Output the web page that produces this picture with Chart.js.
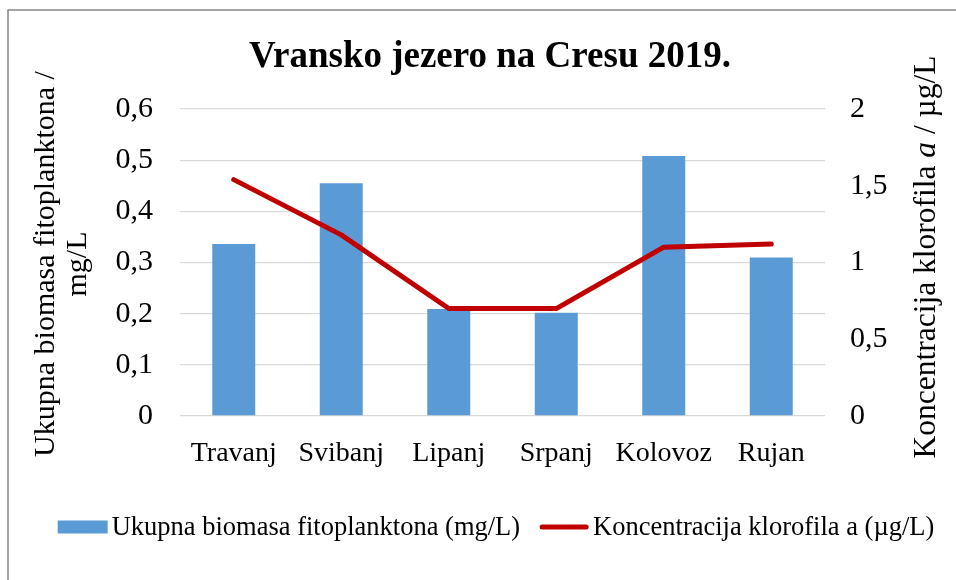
<!DOCTYPE html>
<html>
<head>
<meta charset="utf-8">
<script src="https://cdn.jsdelivr.net/npm/chart.js@4.4.1/dist/chart.umd.min.js"></script>
<style>
  html, body { margin: 0; padding: 0; background: #ffffff; }
  #wrap { position: relative; width: 956px; height: 580px; }
</style>
</head>
<body>
<div id="wrap"><canvas id="c" width="956" height="580"></canvas></div>
<script>
// ---- data ----
const categories = ['Travanj', 'Svibanj', 'Lipanj', 'Srpanj', 'Kolovoz', 'Rujan'];
const biomasa = [0.336, 0.455, 0.209, 0.202, 0.508, 0.310];
const klorofil = [1.54, 1.18, 0.70, 0.70, 1.10, 1.12];
const leftTickLabels = ['0', '0,1', '0,2', '0,3', '0,4', '0,5', '0,6'];
const rightTickLabels = ['0', '0,5', '1', '1,5', '2'];
const chartTitle = 'Vransko jezero na Cresu 2019.';
const leftAxisTitle = ['Ukupna biomasa fitoplanktona /', 'mg/L'];
const rightAxisTitle = [['Koncentracija klorofila ', false], ['a', true], [' / µg/L', false]];
const seriesNames = ['Ukupna biomasa fitoplanktona (mg/L)', 'Koncentracija klorofila a (µg/L)'];
const barColor = '#5B9BD5';
const lineColor = '#C00000';

const FONT = "'Liberation Serif', 'Times New Roman', serif";
const PLOT_TOP = 109, PLOT_BOTTOM = 416, PLOT_LEFT = 180, PLOT_RIGHT = 825;
const X_AXIS_H = 60;

const framePlugin = {
  id: 'frame',
  beforeDraw(chart) {
    const ctx = chart.ctx;
    ctx.save();
    ctx.fillStyle = '#ffffff';
    ctx.fillRect(0, 0, chart.width, chart.height);
    ctx.strokeStyle = '#858585';
    ctx.lineWidth = 1.5;
    ctx.beginPath();
    ctx.moveTo(8, chart.height + 5);
    ctx.lineTo(8, 10);
    ctx.lineTo(chart.width + 5, 10);
    ctx.stroke();
    ctx.restore();
  }
};

const textPlugin = {
  id: 'texts',
  afterDraw(chart) {
    const ctx = chart.ctx;
    ctx.save();
    ctx.fillStyle = '#000000';
    ctx.textBaseline = 'alphabetic';

    // chart title
    ctx.font = 'bold 37px ' + FONT;
    ctx.textAlign = 'center';
    ctx.fillText(chartTitle, 490, 67);

    // left axis title, two lines
    ctx.font = '30px ' + FONT;
    const leftPos = [[54, 264], [86, 264]];
    leftAxisTitle.forEach((t, i) => {
      ctx.save();
      ctx.translate(leftPos[i][0], leftPos[i][1]);
      ctx.rotate(-Math.PI / 2);
      ctx.fillText(t, 0, 0);
      ctx.restore();
    });

    // right axis title with italic "a"
    const rf = '31.5px ' + FONT;
    const parts = rightAxisTitle.map(([t, it]) => {
      ctx.font = (it ? 'italic ' : '') + rf;
      return { t, it, w: ctx.measureText(t).width };
    });
    const total = parts.reduce((s, p) => s + p.w, 0);
    ctx.save();
    ctx.translate(935, 257);
    ctx.rotate(-Math.PI / 2);
    ctx.textAlign = 'left';
    let x = -total / 2;
    parts.forEach(p => {
      ctx.font = (p.it ? 'italic ' : '') + rf;
      ctx.fillText(p.t, x, 0);
      x += p.w;
    });
    ctx.restore();

    // legend
    ctx.font = '26.5px ' + FONT;
    ctx.textAlign = 'left';
    ctx.textBaseline = 'middle';
    const symW = 50, gap = 4, itemGap = 19;
    const w0 = ctx.measureText(seriesNames[0]).width;
    const w1 = ctx.measureText(seriesNames[1]).width;
    const totalW = symW + gap + w0 + itemGap + symW + gap + w1;
    let lx = 496 - totalW / 2;
    const ly = 527;
    ctx.fillStyle = barColor;
    ctx.fillRect(lx, ly - 6.5, symW, 13);
    ctx.fillStyle = '#000000';
    ctx.fillText(seriesNames[0], lx + symW + gap, ly + 1);
    lx += symW + gap + w0 + itemGap;
    ctx.strokeStyle = lineColor;
    ctx.lineWidth = 5;
    ctx.lineCap = 'round';
    ctx.beginPath();
    ctx.moveTo(lx + 3, ly);
    ctx.lineTo(lx + symW - 3, ly);
    ctx.stroke();
    ctx.fillText(seriesNames[1], lx + symW + gap, ly + 1);
    ctx.restore();
  }
};

new Chart(document.getElementById('c'), {
  type: 'bar',
  data: {
    labels: categories,
    datasets: [
      {
        type: 'bar',
        label: seriesNames[0],
        data: biomasa,
        backgroundColor: barColor,
        borderWidth: 0,
        yAxisID: 'y',
        categoryPercentage: 1.0,
        barPercentage: 0.4,
        order: 2
      },
      {
        type: 'line',
        label: seriesNames[1],
        data: klorofil,
        borderColor: lineColor,
        backgroundColor: lineColor,
        borderWidth: 5,
        borderCapStyle: 'round',
        borderJoinStyle: 'round',
        pointRadius: 0,
        pointHoverRadius: 0,
        tension: 0,
        fill: false,
        yAxisID: 'y1',
        order: 1
      }
    ]
  },
  options: {
    responsive: false,
    animation: false,
    devicePixelRatio: 1,
    layout: { padding: { left: 0, right: 0, top: PLOT_TOP, bottom: 580 - PLOT_BOTTOM - X_AXIS_H } },
    plugins: {
      tooltip: { enabled: false },
      title: { display: false },
      legend: { display: false }
    },
    scales: {
      x: {
        position: 'bottom',
        grid: { display: false, drawTicks: false },
        border: { display: false },
        ticks: { color: '#000000', font: { family: FONT, size: 28 }, padding: 21, maxRotation: 0, autoSkip: false },
        afterFit: (scale) => { scale.height = X_AXIS_H; }
      },
      y: {
        position: 'left',
        min: 0, max: 0.6,
        grid: { color: '#D9D9D9', lineWidth: 1.3, drawTicks: false },
        border: { display: false },
        ticks: {
          stepSize: 0.1,
          color: '#000000',
          font: { family: FONT, size: 30 },
          padding: 27,
          callback: (v, i) => leftTickLabels[i]
        },
        afterFit: (scale) => { scale.width = PLOT_LEFT; }
      },
      y1: {
        position: 'right',
        min: 0, max: 2,
        grid: { display: false, drawTicks: false },
        border: { display: false },
        ticks: {
          stepSize: 0.5,
          color: '#000000',
          font: { family: FONT, size: 30 },
          padding: 25,
          callback: (v, i) => rightTickLabels[i]
        },
        afterFit: (scale) => { scale.width = 956 - PLOT_RIGHT; }
      }
    }
  },
  plugins: [framePlugin, textPlugin]
});
</script>
</body>
</html>
